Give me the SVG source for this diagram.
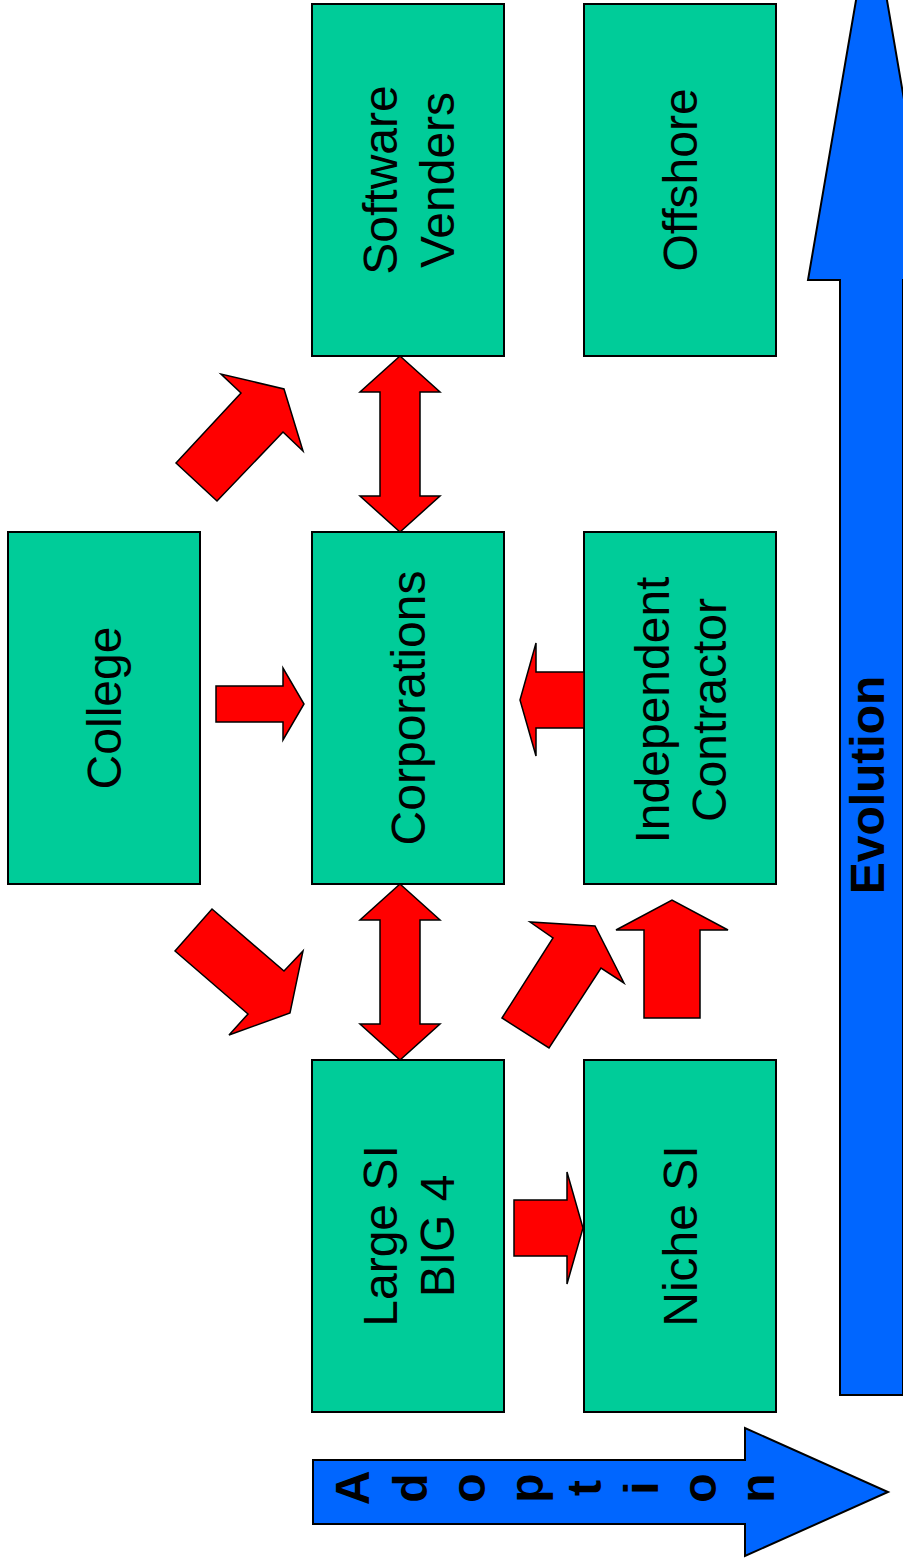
<svg xmlns="http://www.w3.org/2000/svg" width="903" height="1566" viewBox="0 0 903 1566">
<style>
.box{fill:#00CC99;stroke:#000;stroke-width:2}
.arr{fill:#FF0000;stroke:#000;stroke-width:1.5;stroke-linejoin:miter}
.big{fill:#0066FF;stroke:#000;stroke-width:2}
.t{font-family:"Liberation Sans",Arial,sans-serif;font-size:48px;fill:#000;text-anchor:middle}
.b{font-family:"Liberation Sans",Arial,sans-serif;font-size:48px;font-weight:bold;fill:#000;text-anchor:middle}
</style>
<rect width="903" height="1566" fill="#fff"/>
<g id="evolution">
<polygon class="big" points="840,1395 840,280 808,280 871.5,-90 935,280 903,280 903,1395"/>
<text class="t" style="font-weight:bold" transform="translate(867,785) rotate(-90)" x="0" y="17">Evolution</text>
</g>
<g id="adoption">
<polygon class="big" points="313,1460 745,1460 745,1428 888,1492 745,1556 745,1524 313,1524"/>
<text class="b" transform="translate(0,1488) rotate(-90)"><tspan x="0" y="369">A</tspan><tspan x="0" y="427">d</tspan><tspan x="0" y="485">o</tspan><tspan x="0" y="543">p</tspan><tspan x="0" y="601">t</tspan><tspan x="0" y="658">i</tspan><tspan x="0" y="716">o</tspan><tspan x="0" y="774">n</tspan></text>
</g>
<g id="software">
<rect class="box" x="312" y="4" width="192" height="352"/>
<text class="t" transform="translate(408,180) rotate(-90)"><tspan x="0" y="-11">Software</tspan><tspan x="0" y="46">Venders</tspan></text>
</g>
<g id="offshore">
<rect class="box" x="584" y="4" width="192" height="352"/>
<text class="t" transform="translate(680,180) rotate(-90)" x="0" y="17">Offshore</text>
</g>
<g id="college">
<rect class="box" x="8" y="532" width="192" height="352"/>
<text class="t" transform="translate(104,708) rotate(-90)" x="0" y="17">College</text>
</g>
<g id="corporations">
<rect class="box" x="312" y="532" width="192" height="352"/>
<text class="t" transform="translate(408,708) rotate(-90)" x="0" y="17">Corporations</text>
</g>
<g id="independent">
<rect class="box" x="584" y="532" width="192" height="352"/>
<text class="t" transform="translate(680,710) rotate(-90)"><tspan x="0" y="-11">Independent</tspan><tspan x="0" y="46">Contractor</tspan></text>
</g>
<g id="largesi">
<rect class="box" x="312" y="1060" width="192" height="352"/>
<text class="t" transform="translate(408,1236) rotate(-90)"><tspan x="0" y="-11">Large SI</tspan><tspan x="0" y="46">BIG 4</tspan></text>
</g>
<g id="nichesi">
<rect class="box" x="584" y="1060" width="192" height="352"/>
<text class="t" transform="translate(680,1236) rotate(-90)" x="0" y="17">Niche SI</text>
</g>
<g id="connectors">
<polygon class="arr" points="216,686 283,686 283,668 304,704 283,740 283,722 216,722"/>
<polygon class="arr" points="584,672 536,672 536,643 520,700 536,756 536,728 584,728"/>
<polygon class="arr" points="514,1200 567,1200 567,1172 583,1228 567,1284 567,1256 514,1256"/>
<polygon class="arr" points="400,356 440,392 420,392 420,496 440,496 400,532 360,496 380,496 380,392 360,392"/>
<polygon class="arr" points="400,884 440,920 420,920 420,1024 440,1024 400,1060 360,1024 380,1024 380,920 360,920"/>
<polygon class="arr" points="644,1018 644,930 616,930 672,900 728,930 700,930 700,1018"/>
<polygon class="arr" points="502,1018 553,938 530,922 595,926 624,983 601,968 549,1048"/>
<polygon class="arr" points="176,463 241,393 221,374 284,389 303,451 283,432 217,501"/>
<polygon class="arr" points="175,951 212,909 284,971 303,951 290,1013 229,1035 248,1014"/>
</g>
</svg>
